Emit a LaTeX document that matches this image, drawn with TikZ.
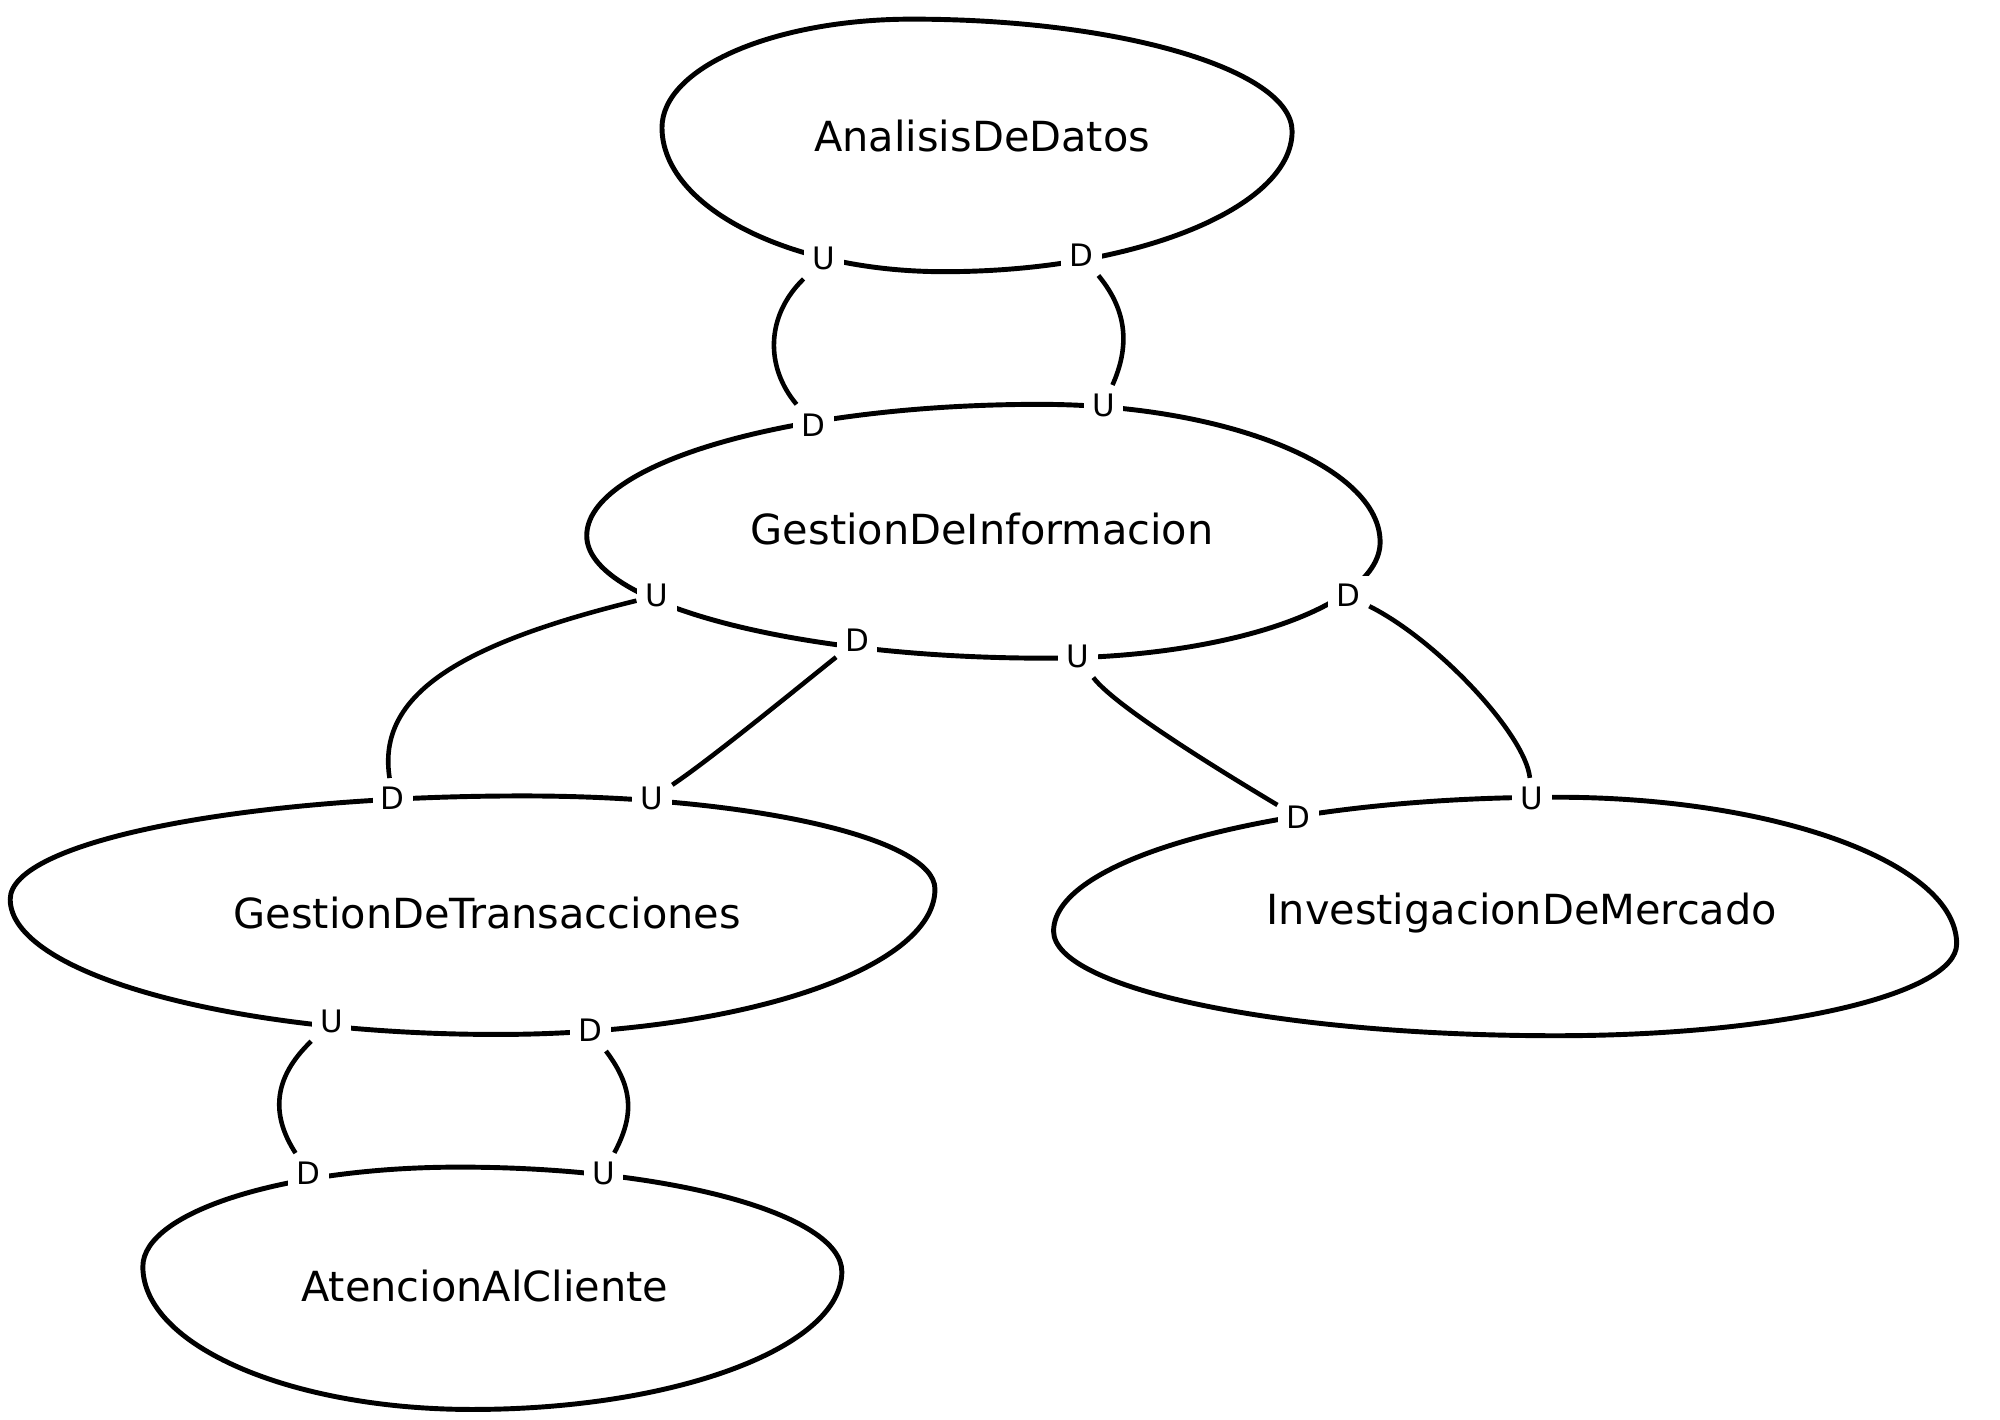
\documentclass[tikz,border=0pt]{standalone}
\usepackage{fontspec}
\setmainfont{DejaVu Sans}
\usepackage{tikz}
\usetikzlibrary{positioning}

\begin{document}
\begin{tikzpicture}[x=0.012755cm, y=-0.012755cm,
    ctx/.style={draw=black, line width=1.4pt, line join=round},
    ctxname/.style={font=\fontsize{11.8}{14}\selectfont},
    tag/.style={fill=white, inner sep=2.4pt, font=\fontsize{8.8}{10}\selectfont},
    rel/.style={draw=black, line width=1.3pt}
  ]
  \useasboundingbox (0,0) rectangle (1568,1113);

  % bounded contexts
  \draw[ctx] (519,100) .. controls +(0,-47) and +(-108,0) .. (715,15)
    .. controls +(164,0) and +(0,-48) .. (1013,103)
    .. controls +(0,60) and +(150,0) .. (740,213)
    .. controls +(-122,0) and +(0,62) .. (519,100) -- cycle;
  \draw[ctx] (460,420) .. controls +(0,-57) and +(-195,0) .. (815,317)
    .. controls +(147,0) and +(0,-59) .. (1082,425)
    .. controls +(0,50) and +(144,0) .. (820,516)
    .. controls +(-198,0) and +(0,53) .. (460,420) -- cycle;
  \draw[ctx] (8,705) .. controls +(0,-45) and +(-221,0) .. (410,624)
    .. controls +(178,0) and +(0,-40) .. (733,697)
    .. controls +(0,63) and +(189,0) .. (390,811)
    .. controls +(-210,0) and +(0,58) .. (8,705) -- cycle;
  \draw[ctx] (112,993) .. controls +(0,-43) and +(-136,0) .. (360,915)
    .. controls +(165,0) and +(0,-45) .. (660,997)
    .. controls +(0,59) and +(160,0) .. (370,1105)
    .. controls +(-142,0) and +(0,62) .. (112,993) -- cycle;
  \draw[ctx] (826,730) .. controls +(0,-58) and +(-217,0) .. (1220,625)
    .. controls +(173,0) and +(0,-63) .. (1534,740)
    .. controls +(0,40) and +(173,0) .. (1220,812)
    .. controls +(-217,0) and +(0,45) .. (826,730) -- cycle;

  \node[ctxname] (analisis) at (770,107) {AnalisisDeDatos};
  \node[ctxname] (gestinfo) at (770,415) {GestionDeInformacion};
  \node[ctxname] (gesttrans) at (382,716) {GestionDeTransacciones};
  \node[ctxname] (atencion) at (380,1008) {AtencionAlCliente};
  \node[ctxname] (investig) at (1193,716) {InvestigacionDeMercado};

  % upstream / downstream ends
  \node[tag] (aU) at (646,203) {U};
  \node[tag] (aD) at (848,200) {D};
  \node[tag] (gD1) at (638,333) {D};
  \node[tag] (gU1) at (865,318) {U};
  \node[tag] (gU2) at (515,467) {U};
  \node[tag] (gD2) at (672,502) {D};
  \node[tag] (gU3) at (845,515) {U};
  \node[tag] (gD3) at (1057,467) {D};
  \node[tag] (tD1) at (308,626) {D};
  \node[tag] (tU1) at (511,626) {U};
  \node[tag] (tU2) at (260,801) {U};
  \node[tag] (tD2) at (463,808) {D};
  \node[tag] (cD) at (242,920) {D};
  \node[tag] (cU) at (473,920) {U};
  \node[tag] (iD) at (1018,641) {D};
  \node[tag] (iU) at (1201,626) {U};

  % relationships
  \draw[rel] (aU) .. controls +(-46,45) and +(-38,-45) .. (gD1);
  \draw[rel] (aD) .. controls +(37,45) and +(20,-45) .. (gU1);
  \draw[rel] (gU2) .. controls +(-155,38) and +(-13,-81) .. (tD1);
  \draw[rel] (gD2) .. controls +(-50,40) and +(45,-30) .. (tU1);
  \draw[rel] (gU3) .. controls +(30,40) and +(-50,-30) .. (iD);
  \draw[rel] (gD3) .. controls +(70,35) and +(-5,-50) .. (iU);
  \draw[rel] (tU2) .. controls +(-47,45) and +(-29,-45) .. (cD);
  \draw[rel] (tD2) .. controls +(34,45) and +(24,-45) .. (cU);
\end{tikzpicture}
\end{document}
